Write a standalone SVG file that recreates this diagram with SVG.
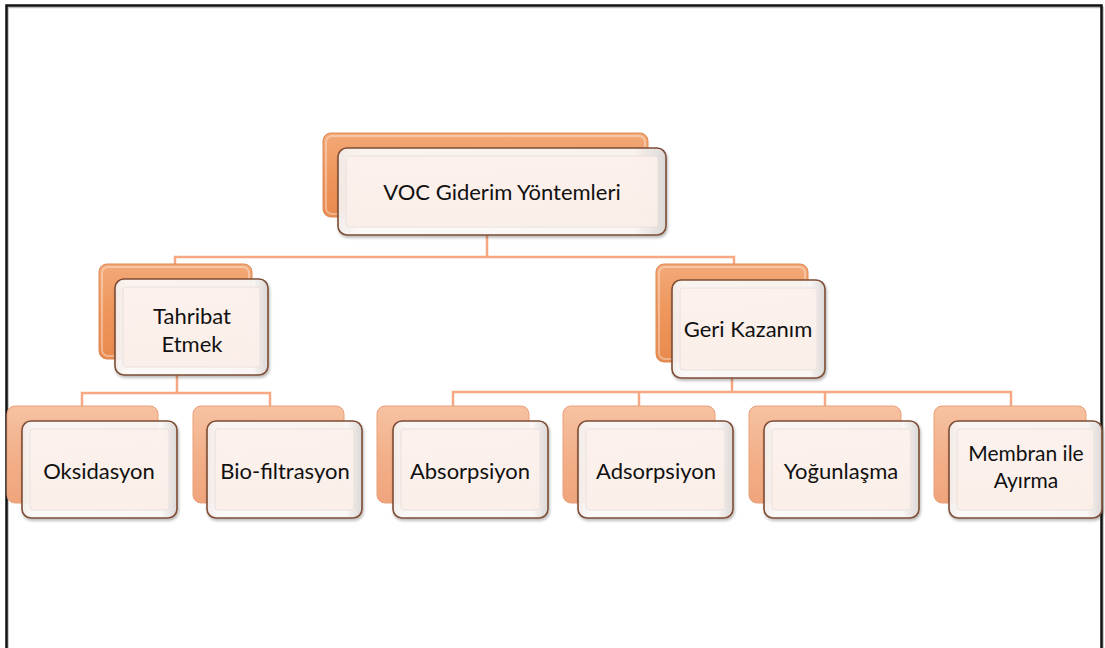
<svg xmlns="http://www.w3.org/2000/svg" width="1105" height="648" viewBox="0 0 1105 648">
<defs>
<linearGradient id="backDark" x1="0" y1="0" x2="0" y2="1">
<stop offset="0" stop-color="#f3a977"/>
<stop offset="0.5" stop-color="#ee965c"/>
<stop offset="1" stop-color="#e98a4e"/>
</linearGradient>
<linearGradient id="backLight" x1="0" y1="0" x2="0" y2="1">
<stop offset="0" stop-color="#f6c2a2"/>
<stop offset="0.5" stop-color="#f3b08a"/>
<stop offset="1" stop-color="#efa57c"/>
</linearGradient>
<linearGradient id="frontOuter" x1="0" y1="0" x2="1" y2="0">
<stop offset="0" stop-color="#f4efed"/>
<stop offset="0.08" stop-color="#fdfbfa"/>
<stop offset="0.9" stop-color="#fbf8f7"/>
<stop offset="1" stop-color="#dcd8d6"/>
</linearGradient>
<linearGradient id="frontInner" x1="0" y1="0" x2="0" y2="1">
<stop offset="0" stop-color="#fcf1ec"/>
<stop offset="1" stop-color="#fbeee8"/>
</linearGradient>
<filter id="sh" x="-10%" y="-10%" width="130%" height="130%">
<feGaussianBlur in="SourceAlpha" stdDeviation="1.5"/>
<feOffset dx="1" dy="1.5"/>
<feComponentTransfer><feFuncA type="linear" slope="0.3"/></feComponentTransfer>
<feMerge><feMergeNode/><feMergeNode in="SourceGraphic"/></feMerge>
</filter>
</defs>
<style>
.frame{fill:none;stroke:#111;stroke-width:2.5}
.frameSh{fill:none;stroke:#bbb;stroke-width:1.5}
.conn{fill:none;stroke:#f5a883;stroke-width:2.5}
.bd{fill:url(#backDark);stroke:#dc8a55;stroke-width:1}
.bl{fill:url(#backLight);stroke:#e8a07a;stroke-width:1}
.hl{fill:none;stroke:#fff;stroke-opacity:0.35;stroke-width:2}
.fo{fill:url(#frontOuter);fill-opacity:0.93;stroke:#7d4d35;stroke-width:1.6}
.fi{fill:url(#frontInner);fill-opacity:0.9;stroke:#e7dcd7;stroke-width:0.8}
text{font-family:Lato,"Open Sans","Liberation Sans",sans-serif;font-size:22px;fill:#111;text-anchor:middle}
.sm{font-size:21px}
</style>
<rect class="frameSh" x="8" y="7.5" width="1095" height="660"/>
<rect class="frame" x="6.5" y="5.5" width="1095" height="660"/>
<g id="connectors">
<path class="conn" d="M487 235V257M175 264V257H734V264"/>
<path class="conn" d="M177 375V393M82 406V393H270V406"/>
<path class="conn" d="M732 378V392M453 406V392H1011V406M639 392V406M825 392V406"/>
</g>
<g id="n-root">
<rect class="bd" x="323" y="133" width="325" height="84" rx="8"/>
<rect class="hl" x="326" y="136" width="319" height="78" rx="6"/>
<g filter="url(#sh)"><rect class="fo" x="338" y="148" width="328" height="87" rx="9"/></g>
<rect class="fi" x="346" y="156" width="312" height="71" rx="3"/>
<text x="502" y="200">VOC Giderim Yöntemleri</text>
</g>
<g id="n-tahribat">
<rect class="bd" x="99" y="264" width="153" height="95" rx="8"/>
<rect class="hl" x="102" y="267" width="147" height="89" rx="6"/>
<g filter="url(#sh)"><rect class="fo" x="115" y="279" width="153" height="96" rx="9"/></g>
<rect class="fi" x="123" y="287" width="137" height="80" rx="3"/>
<text x="192" y="324">Tahribat</text>
<text x="192" y="352">Etmek</text>
</g>
<g id="n-geri">
<rect class="bd" x="656" y="264" width="152" height="98" rx="8"/>
<rect class="hl" x="659" y="267" width="146" height="92" rx="6"/>
<g filter="url(#sh)"><rect class="fo" x="672" y="280" width="153" height="98" rx="9"/></g>
<rect class="fi" x="680" y="288" width="137" height="82" rx="3"/>
<text x="748" y="337">Geri Kazanım</text>
</g>
<g id="n-oksidasyon">
<rect class="bl" x="7" y="406" width="151" height="97" rx="8"/>
<g filter="url(#sh)"><rect class="fo" x="22" y="421" width="155" height="97" rx="9"/></g>
<rect class="fi" x="30" y="429" width="139" height="81" rx="3"/>
<text x="99" y="479">Oksidasyon</text>
</g>
<g id="n-bio">
<rect class="bl" x="193" y="406" width="151" height="97" rx="8"/>
<g filter="url(#sh)"><rect class="fo" x="207" y="421" width="155" height="97" rx="9"/></g>
<rect class="fi" x="215" y="429" width="139" height="81" rx="3"/>
<text x="285" y="479">Bio-filtrasyon</text>
</g>
<g id="n-absorpsiyon">
<rect class="bl" x="377" y="406" width="152" height="97" rx="8"/>
<g filter="url(#sh)"><rect class="fo" x="393" y="421" width="155" height="97" rx="9"/></g>
<rect class="fi" x="401" y="429" width="139" height="81" rx="3"/>
<text x="470" y="479">Absorpsiyon</text>
</g>
<g id="n-adsorpsiyon">
<rect class="bl" x="563" y="406" width="152" height="97" rx="8"/>
<g filter="url(#sh)"><rect class="fo" x="578" y="421" width="155" height="97" rx="9"/></g>
<rect class="fi" x="586" y="429" width="139" height="81" rx="3"/>
<text x="656" y="479">Adsorpsiyon</text>
</g>
<g id="n-yogunlasma">
<rect class="bl" x="749" y="406" width="152" height="97" rx="8"/>
<g filter="url(#sh)"><rect class="fo" x="764" y="421" width="155" height="97" rx="9"/></g>
<rect class="fi" x="772" y="429" width="139" height="81" rx="3"/>
<text x="841" y="479">Yoğunlaşma</text>
</g>
<g id="n-membran">
<rect class="bl" x="934" y="406" width="152" height="97" rx="8"/>
<g filter="url(#sh)"><rect class="fo" x="949" y="421" width="153" height="97" rx="9"/></g>
<rect class="fi" x="957" y="429" width="137" height="81" rx="3"/>
<text class="sm" x="1026" y="461">Membran ile</text>
<text class="sm" x="1026" y="488">Ayırma</text>
</g>
</svg>
